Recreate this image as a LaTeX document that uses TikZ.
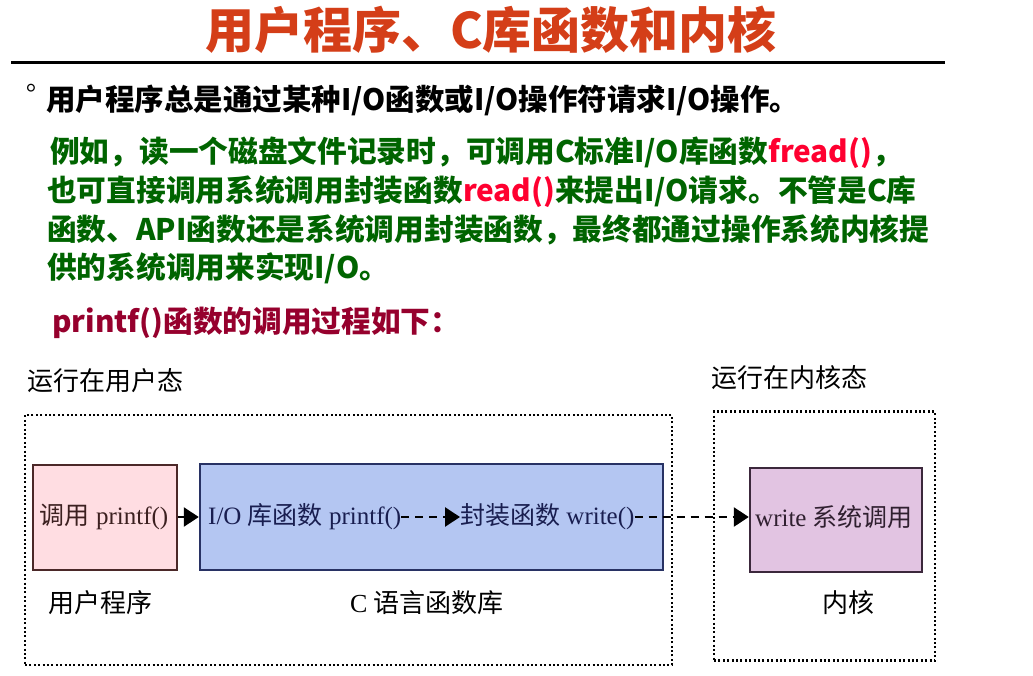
\documentclass[tikz,border=0pt]{standalone}
\usepackage{fontspec}
\setmainfont{Liberation Serif}
\newfontfamily\cjk{Noto Sans CJK SC}
\usetikzlibrary{arrows.meta}

\definecolor{titlered}{RGB}{212,62,24}
\definecolor{textgreen}{RGB}{0,100,0}
\definecolor{hotred}{RGB}{255,0,48}
\definecolor{wine}{RGB}{150,0,45}
\definecolor{pinkfill}{RGB}{255,221,226}
\definecolor{pinkline}{RGB}{75,40,40}
\definecolor{bluefill}{RGB}{180,198,242}
\definecolor{blueline}{RGB}{40,50,100}
\definecolor{bluetext}{RGB}{25,30,80}
\definecolor{purplefill}{RGB}{226,196,226}
\definecolor{purpleline}{RGB}{60,40,60}

\newcommand{\zh}[1]{{\cjk #1}}

\tikzset{
  heading/.style={font=\cjk\bfseries\fontsize{49}{49}\selectfont, text=titlered, inner sep=0pt},
  bodyline/.style={anchor=west, inner sep=0pt, font=\cjk\bfseries\fontsize{29.5}{30}\selectfont},
  greenline/.style={anchor=west, inner sep=0pt, text=textgreen, font=\cjk\bfseries\fontsize{29.7}{30}\selectfont},
  caption/.style={inner sep=0pt, font=\fontsize{26}{26}\selectfont},
  region/.style={draw=black, line width=2.4pt, dash pattern=on 2pt off 2.4pt},
  fnbox/.style={line width=2.4pt, inner sep=0pt},
  boxtext/.style={inner sep=0pt, font=\fontsize{25}{25}\selectfont},
  tip/.style={-{Triangle[length=15pt,width=19pt]}},
  dashlink/.style={tip, line width=2.6pt, dash pattern=on 8pt off 6pt},
}

\begin{document}
\begin{tikzpicture}[x=1pt, y=-1pt]
\useasboundingbox (0,0) rectangle (1033,675);

% heading and rule
\node[heading] (title) at (491,30) {用户程序、C库函数和内核};
\coordinate (ruleL) at (11,62);
\coordinate (ruleR) at (945,62);
\draw[line width=3pt] (ruleL) -- (ruleR);

% bullet point
\node[inner sep=0pt, font=\fontsize{26}{26}\selectfont] (bullet) at (31,93) {°};
\node[bodyline] (intro) at (46,100) {用户程序总是通过某种I/O函数或I/O操作符请求I/O操作。};

% green paragraph
\node[greenline] (g1) at (50,153) {例如，读一个磁盘文件记录时，可调用C标准I/O库函数\textcolor{hotred}{fread()}，};
\node[greenline] (g2) at (47,192) {也可直接调用系统调用封装函数\textcolor{hotred}{read()}来提出I/O请求。不管是C库};
\node[greenline] (g3) at (47,230) {函数、API函数还是系统调用封装函数，最终都通过操作系统内核提};
\node[greenline] (g4) at (47,268) {供的系统调用来实现I/O。};

\node[greenline, text=wine] (howto) at (52,323) {printf()函数的调用过程如下：};

% mode regions
\node[caption, anchor=west] (userlbl) at (27,381) {\zh{运行在用户态}};
\node[caption, anchor=west] (kernlbl) at (711,378) {\zh{运行在内核态}};
\node[region, minimum width=647pt, minimum height=250pt] (userzone) at (348.5,540) {};
\node[region, minimum width=221pt, minimum height=249pt] (kernzone) at (824.5,536) {};

% function boxes
\node[fnbox, draw=pinkline, fill=pinkfill, minimum width=144pt, minimum height=105pt] (app) at (105,517.5) {};
\node[fnbox, draw=blueline, fill=bluefill, minimum width=463pt, minimum height=106pt] (clib) at (431.5,517) {};
\node[fnbox, draw=purpleline, fill=purplefill, minimum width=172pt, minimum height=104pt] (sys) at (836,520) {};

\node[boxtext, text=pinkline!80!black] (appcall) at (104,517) {\zh{调用} printf()};
\node[boxtext, text=bluetext, anchor=west] (libprintf) at (208,517) {I/O \zh{库函数} printf()};
\node[boxtext, text=bluetext, anchor=west] (wrapwrite) at (460,517) {\zh{封装函数} write()};
\node[boxtext, text=purpleline!80!black] (syswrite) at (834,517) {write \zh{系统调用}};

% calls
\draw[tip, line width=2.4pt] (app.east |- appcall) -- (clib.west |- appcall);
\draw[dashlink] (libprintf.east) -- (wrapwrite.west);
\draw[dashlink] (wrapwrite.east) -- (sys.west |- wrapwrite);

% captions under boxes
\node[caption] (applbl) at (100,603) {\zh{用户程序}};
\node[caption] (liblbl) at (427,603) {C \zh{语言函数库}};
\node[caption] (syslbl) at (848,603) {\zh{内核}};
\end{tikzpicture}
\end{document}
